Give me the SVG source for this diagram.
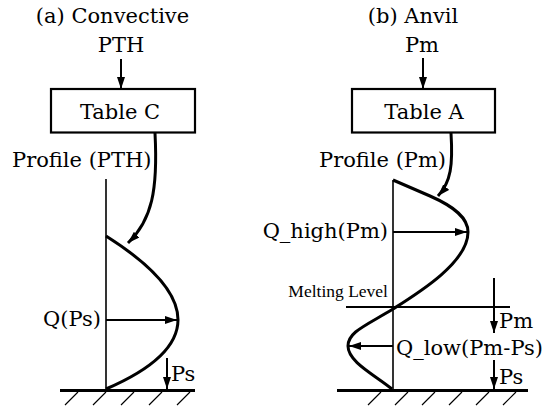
<svg xmlns="http://www.w3.org/2000/svg" width="547" height="411" viewBox="0 0 547 411">
<style>
.t{font-family:"DejaVu Serif","Liberation Serif",serif;font-size:21px;fill:#000}
.s{font-family:"Liberation Serif","Times New Roman",serif;font-size:17.5px;fill:#000}
.ln{stroke:#000;stroke-width:2;fill:none}
.ax{stroke:#000;stroke-width:1.6;fill:none}
.pr{stroke:#000;stroke-width:3;fill:none}
.gr{stroke:#000;stroke-width:3.2;fill:none}
.h{stroke:#000;stroke-width:1.2;fill:none}
.box{stroke:#000;stroke-width:2.2;fill:#fff}
</style>
<defs>
<marker id="ah" viewBox="0 0 12 8" refX="12" refY="4" markerWidth="12" markerHeight="8" markerUnits="userSpaceOnUse" orient="auto">
<path d="M0,0 L12,4 L0,8 Z" fill="#000"/>
</marker>
</defs>
<rect width="547" height="411" fill="#fff"/>

<g id="titleA"><text class="t" x="112.5" y="23" text-anchor="middle">(a) Convective</text></g>
<g id="inputA"><text class="t" x="121" y="52" text-anchor="middle">PTH</text></g>
<g id="tableC"><rect class="box" x="51" y="89" width="144" height="43.5"/><text class="t" x="120" y="119" text-anchor="middle">Table C</text></g>
<g id="profileA"><text class="t" x="12" y="167">Profile (PTH)</text></g>
<g id="plotA">
<line class="ax" x1="106" y1="179" x2="106" y2="390"/>
<path class="pr" d="M106,236 Q250,327 106,389"/>
<line class="gr" x1="60" y1="390.5" x2="195" y2="390.5"/>
<path class="h" d="M65,405 L78,392 M93,405 L106,392 M121,405 L134,392 M149,405 L162,392 M177,405 L190,392"/>
<text class="t" x="101" y="326" text-anchor="end">Q(Ps)</text>
<text class="t" x="171" y="381">Ps</text>
</g>

<g id="titleB"><text class="t" x="413" y="23" text-anchor="middle">(b) Anvil</text></g>
<g id="inputB"><text class="t" x="422" y="52" text-anchor="middle">Pm</text></g>
<g id="tableA"><rect class="box" x="352" y="89" width="143" height="43.5"/><text class="t" x="424" y="119" text-anchor="middle">Table A</text></g>
<g id="profileB"><text class="t" x="319" y="167">Profile (Pm)</text></g>
<g id="plotB">
<line class="ax" x1="393" y1="180" x2="393" y2="390"/>
<path class="pr" d="M393,180 L430,196 C455,207 468,218 468,232 C468,262 420,292 393,309 C365,326 348,332 348,346 C348,362 375,375 392,389"/>
<line class="ln" x1="346" y1="307" x2="510" y2="307"/>
<line class="gr" x1="337" y1="390.5" x2="528" y2="390.5"/>
<path class="h" d="M368,405 L381,392 M395,405 L408,392 M422,405 L435,392 M449,405 L462,392 M476,405 L489,392 M503,405 L516,392"/>
<text class="t" x="388" y="238" text-anchor="end">Q_high(Pm)</text>
<text class="s" x="388" y="297" text-anchor="end">Melting Level</text>
<text class="t" x="499" y="328">Pm</text>
<text class="t" x="396" y="355">Q_low(Pm-Ps)</text>
<text class="t" x="499" y="384">Ps</text>
</g>

<g id="connectors">
<line class="ln" x1="121" y1="59" x2="121" y2="89" marker-end="url(#ah)"/>
<line class="ln" x1="423" y1="58" x2="423" y2="89" marker-end="url(#ah)"/>
<path class="pr" d="M155,133 C158,190 152,220 128,243" marker-end="url(#ah)"/>
<path class="pr" d="M451,133 C453,165 451,182 438,196" marker-end="url(#ah)"/>
<line class="ln" x1="106" y1="320" x2="177" y2="320" marker-end="url(#ah)"/>
<line class="ln" x1="167" y1="358" x2="167" y2="389" marker-end="url(#ah)"/>
<line class="ln" x1="393" y1="232" x2="467" y2="232" marker-end="url(#ah)"/>
<line class="ln" x1="393" y1="346" x2="349" y2="346" marker-end="url(#ah)"/>
<line class="ln" x1="494" y1="278" x2="494" y2="333" marker-end="url(#ah)"/>
<line class="ln" x1="494" y1="360" x2="494" y2="389" marker-end="url(#ah)"/>
</g>
</svg>
